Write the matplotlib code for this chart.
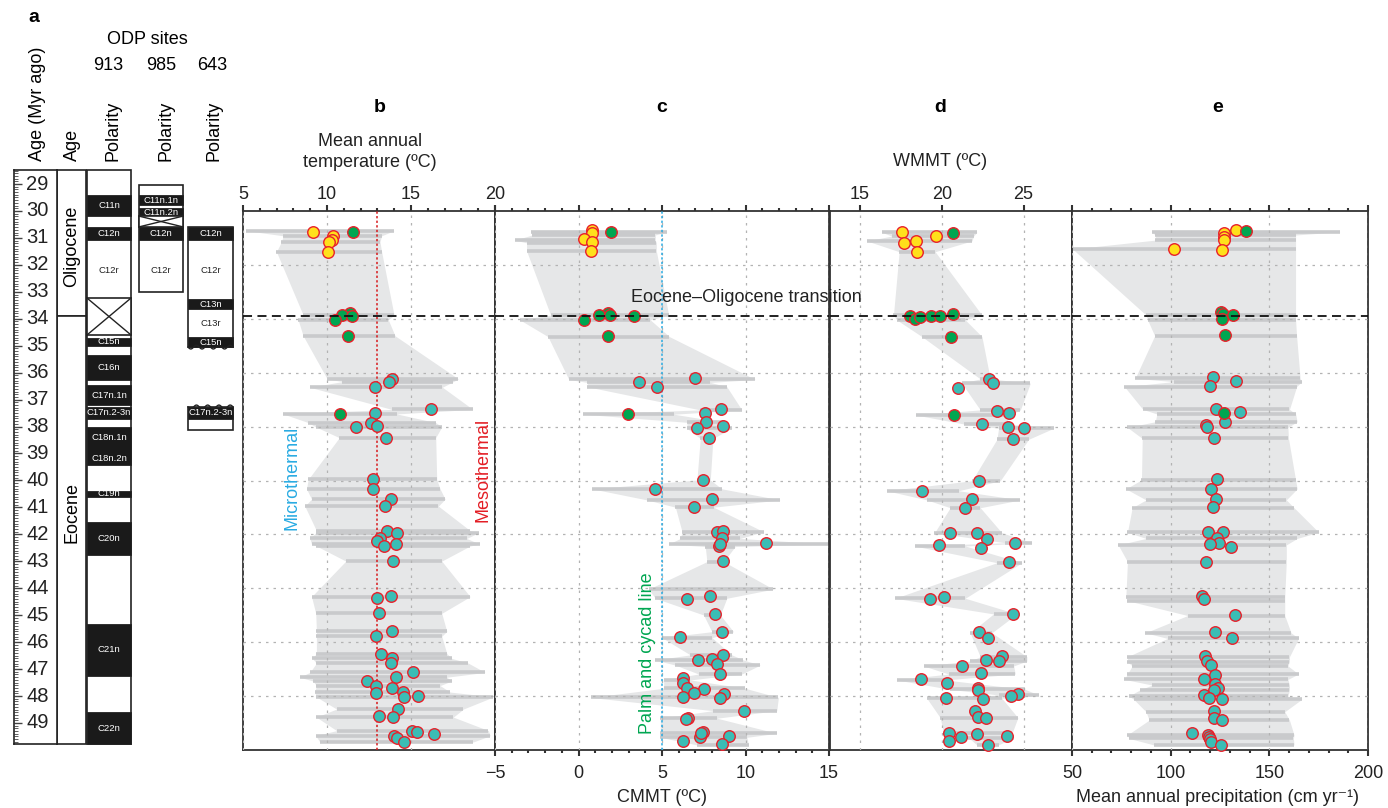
import matplotlib
matplotlib.use('Agg')
import matplotlib.pyplot as plt
import numpy as np
from matplotlib.ticker import MultipleLocator, FixedLocator
from matplotlib.patches import Rectangle

plt.rcParams['font.family'] = ['Liberation Sans', 'DejaVu Sans']

# ---------------------------------------------------------------- data
# eocene-oligocene transition (Myr ago)
eo_age = 33.88

# panel b: mean annual temperature
b_age = [30.77, 30.92, 31.08, 31.16, 31.51, 30.79, 33.80, 33.87, 33.90, 34.06, 34.63,
         36.23, 36.33, 36.54, 37.36, 37.53, 37.48, 37.85, 37.98, 38.01, 38.41,
         39.96, 40.31, 40.69, 40.95, 41.86, 41.94, 42.15, 42.24, 42.43, 42.36, 42.99,
         44.27, 44.35, 44.93, 45.60, 45.78, 46.42, 46.60, 46.78, 47.12, 47.30, 47.44,
         47.61, 47.70, 47.85, 47.90, 48.03, 47.98, 48.48, 48.73, 48.78, 49.28, 49.34,
         49.42, 49.47, 49.57, 49.70]
b_val = [9.17, 10.33, 10.31, 10.13, 10.07, 11.56, 11.36, 10.92, 11.50, 10.49, 11.26,
         13.89, 13.69, 12.83, 16.21, 10.77, 12.83, 12.61, 12.99, 11.74, 13.51,
         12.71, 12.71, 13.81, 13.47, 13.55, 14.15, 13.15, 12.95, 13.41, 14.09, 13.95,
         13.81, 12.97, 13.07, 13.89, 12.91, 13.19, 13.89, 13.83, 15.12, 14.09, 12.36,
         12.91, 13.87, 14.54, 12.91, 14.56, 15.40, 14.25, 13.07, 13.95, 15.06, 15.38,
         16.37, 13.97, 14.15, 14.56]
b_kind = list('yyyyyggggggtttt' + 'gttttt' + 't' * 37)

b_env_age = [30.73, 30.92, 31.14, 31.51, 33.86, 34.04, 34.63, 36.23, 36.33, 36.54, 37.36,
             37.53, 37.85, 38.01, 38.41, 39.96, 40.31, 40.69, 40.95, 41.86, 41.94, 42.15,
             42.36, 42.43, 42.99, 44.31, 44.93, 45.60, 45.78, 46.42, 46.60, 46.78, 47.12,
             47.30, 47.44, 47.61, 47.85, 48.03, 48.48, 48.78, 49.28, 49.47, 49.70]
b_env_lo = [5.20, 7.39, 7.29, 6.99, 8.58, 8.28, 8.58, 10.01, 10.92, 8.98, 13.85,
            7.39, 8.88, 9.33, 10.73, 8.88, 8.78, 9.08, 8.68, 9.37, 9.33, 8.98,
            9.08, 9.37, 11.12, 9.08, 9.33, 9.37, 9.37, 9.37, 9.13, 9.37, 8.98,
            8.38, 9.17, 9.37, 9.27, 9.37, 10.57, 9.37, 10.57, 9.33, 9.57]
b_env_hi = [13.99, 13.25, 13.15, 13.25, 13.99, 13.65, 14.05, 17.82, 17.52, 16.87, 18.68,
            14.15, 16.47, 16.83, 16.47, 16.53, 16.73, 17.03, 16.63, 18.52, 19.02, 18.32,
            19.08, 18.52, 16.83, 18.52, 16.83, 17.13, 16.83, 17.13, 17.42, 18.42, 19.41,
            17.13, 17.42, 16.73, 17.33, 19.91, 18.12, 17.52, 19.61, 19.71, 18.72]

# panel c: coldest month mean temperature
c_age = [30.70, 30.83, 31.05, 31.14, 31.47, 30.79, 33.77, 33.86, 33.86, 33.90, 34.04, 34.63,
         36.33, 36.52, 36.21, 37.53, 37.48, 37.36, 37.84, 38.04, 37.97, 38.41,
         39.98, 40.31, 40.69, 40.99, 41.92, 41.87, 42.15, 42.43, 42.36, 42.31, 42.99,
         44.40, 44.27, 44.97, 45.61, 45.82, 46.47, 46.64, 46.66, 46.82, 47.18, 47.34,
         47.53, 47.71, 47.75, 47.87, 48.05, 47.92, 48.08, 48.54, 48.82, 48.85, 49.34,
         49.50, 49.38, 49.48, 49.65, 49.78]
c_val = [0.82, 0.82, 0.32, 0.82, 0.72, 1.95, 1.75, 1.22, 1.87, 3.31, 0.32, 1.77,
         3.61, 4.70, 6.99, 2.95, 7.59, 8.53, 7.65, 7.09, 8.67, 7.79,
         7.43, 4.58, 7.99, 6.93, 8.29, 8.63, 8.59, 8.39, 8.49, 11.24, 8.65,
         6.49, 7.85, 8.15, 8.59, 6.10, 8.63, 7.99, 7.13, 8.29, 8.45, 6.25,
         6.25, 6.49, 7.51, 6.89, 6.25, 8.69, 8.45, 9.90, 6.55, 6.45, 7.43,
         7.25, 7.33, 9.02, 6.25, 8.59]
c_kind = list('yyyyy' + 'ggggggg' + 'ttt' + 'g' + 't' * 44)

c_env_age = [30.77, 30.89, 31.08, 31.18, 31.48, 33.86, 34.04, 34.66, 36.25, 36.36, 36.52,
             37.38, 37.54, 37.84, 38.06, 38.44, 39.98, 40.31, 40.72, 40.99, 41.90, 42.15,
             42.36, 42.45, 43.01, 44.03, 44.37, 44.99, 45.61, 45.83, 46.47, 46.66, 46.85,
             47.18, 47.40, 47.71, 48.05, 48.54, 48.82, 49.38, 49.53, 49.81]
c_env_lo = [-2.83, -2.77, -3.82, -3.11, -3.11, -1.67, -3.51, -1.83, -0.58, 0.52, 0.52,
            7.29, 0.28, 6.49, 6.49, 7.29, 7.09, 0.82, 4.10, 5.80, 6.20, 6.10,
            5.40, 7.59, 7.69, 4.20, 4.60, 7.49, 7.99, 5.00, 6.69, 4.60, 5.80,
            7.19, 5.10, 5.10, 0.72, 8.05, 4.90, 4.90, 4.90, 7.09]
c_env_hi = [5.30, 4.60, 4.60, 4.66, 4.66, 5.40, 4.30, 5.44, 10.58, 7.89, 8.88,
            9.78, 5.70, 8.69, 9.18, 8.05, 7.89, 8.59, 12.07, 8.09, 11.08, 9.68,
            14.96, 9.38, 8.69, 11.67, 8.88, 8.49, 9.28, 7.99, 9.18, 9.88, 10.88,
            9.78, 6.69, 9.98, 11.97, 11.87, 8.29, 11.87, 10.08, 10.18]

# panel d: warmest month mean temperature
d_age = [30.79, 31.18, 31.10, 31.51, 30.93, 30.83, 33.90, 34.02, 33.92, 33.90, 33.90, 33.82,
         34.66, 36.23, 36.39, 36.58, 37.42, 37.51, 37.57, 37.90, 38.00, 38.06, 38.47,
         40.01, 40.38, 40.70, 41.01, 41.94, 41.96, 42.18, 42.31, 42.41, 42.49, 43.04,
         44.32, 44.40, 44.95, 45.63, 45.83, 46.50, 46.65, 46.70, 46.87, 47.15, 47.38,
         47.50, 47.70, 47.77, 47.92, 47.98, 48.06, 48.11, 48.55, 48.76, 48.81, 49.36,
         49.42, 49.49, 49.65, 49.53, 49.81]
d_val = [17.59, 17.71, 18.41, 18.47, 19.67, 20.69, 18.06, 18.37, 18.67, 19.35, 19.90, 20.67,
         20.55, 22.86, 23.12, 20.98, 23.35, 24.08, 20.73, 22.45, 24.06, 25.04, 24.33,
         22.29, 18.80, 21.84, 21.43, 20.51, 22.14, 22.76, 24.45, 19.84, 22.37, 24.08,
         20.16, 19.27, 24.33, 22.29, 22.80, 23.67, 22.67, 23.47, 21.25, 22.37, 18.73,
         20.31, 22.20, 22.24, 24.65, 24.22, 20.24, 22.53, 22.00, 22.20, 22.73, 20.41,
         22.14, 24.00, 20.45, 21.18, 22.82]
d_kind = list('yyyyy' + 'g' * 8 + 'ttttt' + 'g' + 't' * 42)

d_env_age = [30.79, 30.93, 31.11, 31.51, 33.86, 34.04, 34.66, 36.23, 36.39, 37.38, 37.57,
             37.90, 38.06, 38.47, 40.01, 40.38, 40.72, 41.01, 41.94, 42.31, 42.43, 43.05,
             44.37, 44.95, 45.65, 46.54, 46.70, 46.88, 47.18, 47.40, 47.75, 47.96, 48.08,
             48.80, 49.38, 49.54, 49.81]
d_env_lo = [16.33, 16.94, 15.41, 17.39, 17.04, 17.24, 18.78, 22.35, 21.22, 22.35, 18.41,
            21.33, 23.47, 23.37, 21.84, 16.63, 19.08, 20.51, 19.55, 23.88, 18.33, 23.37,
            17.14, 23.16, 21.73, 22.35, 21.73, 18.88, 20.41, 17.24, 20.51, 23.47, 19.08,
            19.90, 20.10, 21.63, 22.14]
d_env_hi = [22.14, 21.94, 21.84, 19.59, 22.45, 21.43, 22.45, 22.96, 25.41, 24.80, 24.18,
            23.88, 26.84, 25.31, 23.57, 21.02, 24.80, 22.35, 23.67, 25.51, 21.43, 24.90,
            21.43, 24.59, 23.06, 25.20, 25.20, 24.39, 24.49, 20.20, 25.10, 25.92, 23.67,
            24.65, 24.29, 24.39, 23.47]

# panel e: mean annual precipitation
e_age = [30.70, 30.83, 30.95, 31.08, 31.45, 31.41, 30.74, 33.76, 33.83, 34.02, 33.86, 34.60,
         36.17, 36.48, 36.32, 37.35, 37.47, 37.82, 37.94, 38.03, 38.41, 37.51,
         39.96, 40.31, 40.70, 40.99, 41.90, 41.92, 42.15, 42.31, 42.36, 42.45, 43.01,
         44.27, 44.41, 44.99, 45.63, 45.83, 46.51, 46.68, 46.85, 47.22, 47.38, 47.56,
         47.71, 47.77, 47.96, 48.08, 48.12, 48.54, 48.82, 48.89, 49.38, 49.44, 49.50,
         49.58, 49.69, 49.83]
e_val = [133.3, 127.0, 127.0, 127.0, 126.1, 101.6, 138.0, 125.5, 126.6, 125.8, 131.7, 127.7,
         121.4, 119.7, 133.3, 123.0, 135.2, 127.7, 118.0, 118.4, 122.2, 127.0,
         123.4, 120.3, 123.0, 121.4, 119.1, 126.6, 123.4, 124.7, 119.7, 130.5, 118.0,
         116.1, 116.9, 132.5, 122.3, 131.3, 117.5, 118.4, 120.6, 122.3, 116.9, 122.5,
         123.8, 121.9, 116.7, 119.5, 125.9, 122.0, 121.9, 125.9, 110.9, 118.8, 119.2,
         119.7, 120.6, 125.5]
e_kind = list('yyyyyy' + 'gggggg' + 't' * 9 + 'g' + 't' * 36)

e_env_age = [30.77, 30.89, 31.08, 31.41, 33.86, 34.04, 34.63, 36.21, 36.33, 36.52, 37.36,
             37.53, 37.82, 38.03, 38.44, 39.98, 40.31, 40.72, 41.01, 41.92, 42.15, 42.39,
             43.01, 44.31, 44.46, 45.01, 45.65, 45.86, 46.54, 46.72, 46.88, 47.18, 47.38,
             47.59, 47.77, 48.00, 48.12, 48.58, 48.89, 49.44, 49.57, 49.81]
e_env_lo = [90.3, 92.2, 92.2, 50.3, 87.5, 88.3, 91.9, 82.0, 101.6, 76.6, 85.9,
            93.0, 92.2, 78.1, 85.6, 85.2, 77.3, 87.5, 80.5, 78.1, 87.5, 73.4,
            78.1, 77.3, 78.1, 108.6, 87.2, 98.4, 78.1, 78.1, 80.5, 78.1, 76.6,
            90.6, 84.4, 78.9, 81.3, 87.5, 89.1, 78.1, 78.9, 91.4]
e_env_hi = [185.9, 163.3, 163.3, 163.3, 163.3, 163.3, 163.8, 165.6, 166.4, 163.8, 160.2,
            163.3, 164.1, 159.4, 159.7, 163.3, 164.1, 158.6, 162.5, 175.0, 164.1, 158.6,
            158.6, 157.8, 157.8, 157.8, 161.0, 164.8, 160.2, 160.2, 159.4, 164.8, 159.4,
            160.2, 160.2, 159.4, 166.4, 157.8, 160.2, 162.5, 162.2, 162.5]

# magnetostratigraphy (normal chrons: label, top age, base age)
site913_normal = [('C11n', 29.41, 30.19), ('C12n', 30.59, 31.08), ('C15n', 34.71, 35.01),
                  ('C16n', 35.34, 36.27), ('C17n.1n', 36.46, 37.20), ('C17n.2-3n', 37.27, 37.72),
                  ('', 38.01, 39.42), ('C19n', 40.39, 40.61), ('C20n', 41.54, 42.76),
                  ('C21n', 45.32, 47.25), ('C22n', 48.59, 49.78)]
site913_extra = [('C18n.1n', 38.42, 'w'), ('C18n.2n', 39.17, 'w'), ('C12r', 32.2, 'k')]
site913_gap = (33.23, 34.60)
site913_range = (28.48, 49.78)

site985_normal = [('C11n.1n', 29.41, 29.78), ('C11n.2n', 29.89, 30.19), ('C12n', 30.59, 31.08)]
site985_extra = [('C12r', 32.2, 'k')]
site985_gap = (30.19, 30.59)
site985_range = (29.03, 33.01)

site643_normal = [('C12n', 30.59, 31.08), ('C13n', 33.27, 33.64), ('C15n', 34.68, 35.05),
                  ('C17n.2-3n', 37.27, 37.72)]
site643_extra = [('C12r', 32.2, 'k'), ('C13r', 34.16, 'k')]
site643_ranges = [(30.59, 35.05), (37.27, 38.13)]

age_ticks = list(range(29, 50))

# ---------------------------------------------------------------- layout
W, H = 1388, 808
fig = plt.figure(figsize=(13.88, 8.08), dpi=100)

yellow = '#ffe01b'
green = '#00a651'
teal = '#3bbdb5'
edge = '#e8202a'
env_col = '#e6e7e8'
bar_col = '#c9cacc'
spine_col = '#333333'
face = {'y': yellow, 'g': green, 't': teal}


def px_axes(x0, y0, x1, y1):
    return fig.add_axes([x0 / W, 1 - y1 / H, (x1 - x0) / W, (y1 - y0) / H])


def px_text(x, y, s, **kw):
    fig.text(x / W, 1 - y / H, s, **kw)


def draw_panel(ax, ages, vals, kinds, env_age, env_lo, env_hi, xlim):
    ea = np.array(env_age)
    order = np.argsort(ea)
    ea = ea[order]
    lo = np.array(env_lo)[order]
    hi = np.array(env_hi)[order]
    ax.fill_betweenx(ea, lo, hi, color=env_col, lw=0, zorder=1)
    ax.hlines(ea, lo, hi, color=bar_col, lw=2.6, zorder=2)
    ages = np.array(ages)
    vals = np.array(vals)
    kinds = np.array(kinds)
    for k in ['t', 'y', 'g']:
        m = kinds == k
        ax.plot(vals[m], ages[m], 'o', ms=8.3, mfc=face[k], mec=edge, mew=1.0,
                zorder=6, clip_on=False)
    ax.axhline(eo_age, color='#111111', lw=1.3, ls=(0, (5, 3)), zorder=8)
    ax.set_xlim(*xlim)
    ax.set_ylim(50, 30)
    ax.yaxis.set_major_locator(FixedLocator(list(range(32, 50, 2))))
    ax.tick_params(axis='y', left=False, right=False, labelleft=False)
    ax.grid(True, color='#b3b3b3', ls=(0, (2, 4)), lw=0.9, zorder=3)
    for s in ax.spines.values():
        s.set_color(spine_col)
        s.set_linewidth(1.3)
    ax.set_axisbelow(False)
    ax.tick_params(axis='x', which='major', length=4, width=1.5, color=spine_col,
                   labelsize=13, pad=2, labelcolor='#222222')
    ax.tick_params(axis='x', which='minor', length=2.5, width=1.5, color=spine_col)


# panel b
ax_b = px_axes(243, 211, 495, 750)
draw_panel(ax_b, b_age, b_val, b_kind, b_env_age, b_env_lo, b_env_hi, (5, 20))
ax_b.xaxis.set_major_locator(MultipleLocator(5))
ax_b.xaxis.set_minor_locator(MultipleLocator(1))
ax_b.tick_params(axis='x', which='both', top=True, bottom=False, labeltop=True,
                 labelbottom=False)
ax_b.axvline(13, color='#d7191c', ls=(0, (1.5, 1.5)), lw=1.1, zorder=4)
ax_b.text(7.9, 39.9, 'Microthermal', color='#29abe2', rotation=90, fontsize=13,
          ha='center', va='center', zorder=9)
ax_b.text(19.3, 39.6, 'Mesothermal', color='#e31d24', rotation=90, fontsize=13,
          ha='center', va='center', zorder=9)

# panel c
ax_c = px_axes(495, 211, 829, 750)
draw_panel(ax_c, c_age, c_val, c_kind, c_env_age, c_env_lo, c_env_hi, (-5, 15))
ax_c.xaxis.set_major_locator(FixedLocator([-5, 0, 5, 10, 15]))
ax_c.xaxis.set_minor_locator(MultipleLocator(1))
ax_c.tick_params(axis='x', which='both', top=True, bottom=True, labeltop=False,
                 labelbottom=True)
ax_c.tick_params(axis='x', which='major', pad=7)
ax_c.axvline(5, color='#29abe2', ls=(0, (1.5, 1.5)), lw=1.1, zorder=4)
ax_c.text(4.14, 46.4, 'Palm and cycad line', color=green, rotation=90, fontsize=13,
          ha='center', va='center', zorder=9)

# panel d
ax_d = px_axes(830, 211, 1072, 750)
draw_panel(ax_d, d_age, d_val, d_kind, d_env_age, d_env_lo, d_env_hi, (13.16, 27.96))
ax_d.xaxis.set_major_locator(FixedLocator([15, 20, 25]))
ax_d.tick_params(axis='x', which='both', top=True, bottom=False, labeltop=True,
                 labelbottom=False)

# panel e
ax_e = px_axes(1072, 211, 1368, 750)
draw_panel(ax_e, e_age, e_val, e_kind, e_env_age, e_env_lo, e_env_hi, (50, 200))
ax_e.xaxis.set_major_locator(MultipleLocator(50))
ax_e.xaxis.set_minor_locator(MultipleLocator(10))
ax_e.tick_params(axis='x', which='both', top=True, bottom=True, labeltop=False,
                 labelbottom=True)
ax_e.tick_params(axis='x', which='major', pad=7)

# panel letters and axis titles
for x, letter in [(380, 'b'), (662, 'c'), (940, 'd'), (1218, 'e')]:
    px_text(x, 108, letter, fontsize=14, fontweight='bold', ha='center', va='center')
px_text(370, 152, 'Mean annual\ntemperature (\u00baC)', fontsize=13, ha='center',
        va='center', linespacing=1.35, color='#222222')
px_text(940, 162, 'WMMT (\u00baC)', fontsize=13, ha='center', va='center', color='#222222')
px_text(662, 797, 'CMMT (\u00baC)', fontsize=13, ha='center', va='center', color='#222222')
px_text(1218, 797, 'Mean annual precipitation (cm yr\u207b\u00b9)', fontsize=13,
        ha='center', va='center', color='#222222')
px_text(746, 297, 'Eocene\u2013Oligocene transition', fontsize=13, ha='center',
        va='center', color='#222222')

# ---------------------------------------------------------------- column a
ax_s = px_axes(0, 160, 240, 750)
ax_s.set_xlim(0, 240)
ax_s.set_ylim(50, 30 - 51 / 26.95)
ax_s.axis('off')


def box(x0, x1, top, base, fc='white', lw=1.2):
    ax_s.add_patch(Rectangle((x0, top), x1 - x0, base - top, fc=fc, ec='#222222', lw=lw))


def crossed(x0, x1, top, base):
    box(x0, x1, top, base)
    ax_s.plot([x0, x1], [top, base], color='#222222', lw=1)
    ax_s.plot([x0, x1], [base, top], color='#222222', lw=1)


def wavy(x0, x1, age):
    xs = np.linspace(x0, x1, 60)
    ax_s.plot(xs, age + 0.07 * np.sin((xs - x0) / (x1 - x0) * 2 * np.pi * 4),
              color='#222222', lw=1)


def chrons(x0, x1, normal, extra):
    for name, top, base in normal:
        box(x0, x1, top, base, fc='#1a1a1a', lw=0.6)
        if name:
            ax_s.text((x0 + x1) / 2, (top + base) / 2, name, color='white', fontsize=6.8,
                      ha='center', va='center')
    for name, age, c in extra:
        ax_s.text((x0 + x1) / 2, age, name, color='white' if c == 'w' else '#222222',
                  fontsize=6.8, ha='center', va='center')


# age column
box(57, 86, site913_range[0], eo_age)
box(57, 86, eo_age, site913_range[1])
ax_s.text(72, 31.3, 'Oligocene', rotation=90, fontsize=13, ha='center', va='center')
ax_s.text(72, 41.2, 'Eocene', rotation=90, fontsize=13, ha='center', va='center')

# site 913
box(87, 131, *site913_range)
chrons(87, 131, site913_normal, site913_extra)
crossed(87, 131, *site913_gap)

# site 985
box(139, 183, *site985_range)
chrons(139, 183, site985_normal, site985_extra)
crossed(139, 183, *site985_gap)

# site 643
for top, base in site643_ranges:
    box(188, 233, top, base)
chrons(188, 233, site643_normal, site643_extra)
wavy(188, 233, site643_ranges[0][1])
wavy(188, 233, site643_ranges[1][0])

# age ruler
ax_r = px_axes(14, 170, 57, 744)
ax_r.set_ylim(site913_range[1], site913_range[0])
ax_r.set_xlim(0, 1)
ax_r.yaxis.set_major_locator(FixedLocator(age_ticks))
ax_r.yaxis.set_minor_locator(MultipleLocator(0.1))
ax_r.tick_params(axis='y', which='both', direction='in', left=True, right=False,
                 labelleft=False, color='#444444')
ax_r.tick_params(axis='y', which='major', length=6, width=1)
ax_r.tick_params(axis='y', which='minor', length=3, width=0.6)
ax_r.set_xticks([])
for s in ax_r.spines.values():
    s.set_color('#222222')
    s.set_linewidth(1.2)
for a in age_ticks:
    ax_r.text(0.55, a, str(a), transform=ax_r.get_yaxis_transform(), fontsize=14.5,
              ha='center', va='center', color='#222222')

# headers
px_text(34, 18, 'a', fontsize=14, fontweight='bold', ha='center', va='center')
px_text(147, 40, 'ODP sites', fontsize=13, ha='center', va='center')
for x, s in [(108, '913'), (161, '985'), (212, '643')]:
    px_text(x, 65, s, fontsize=13, ha='center', va='center')
for x, s in [(37, 'Age (Myr ago)'), (72, 'Age'), (113, 'Polarity'), (166, 'Polarity'),
             (214, 'Polarity')]:
    px_text(x, 161, s, fontsize=13, rotation=90, ha='center', va='bottom')

fig.savefig('out.png', dpi=100)
